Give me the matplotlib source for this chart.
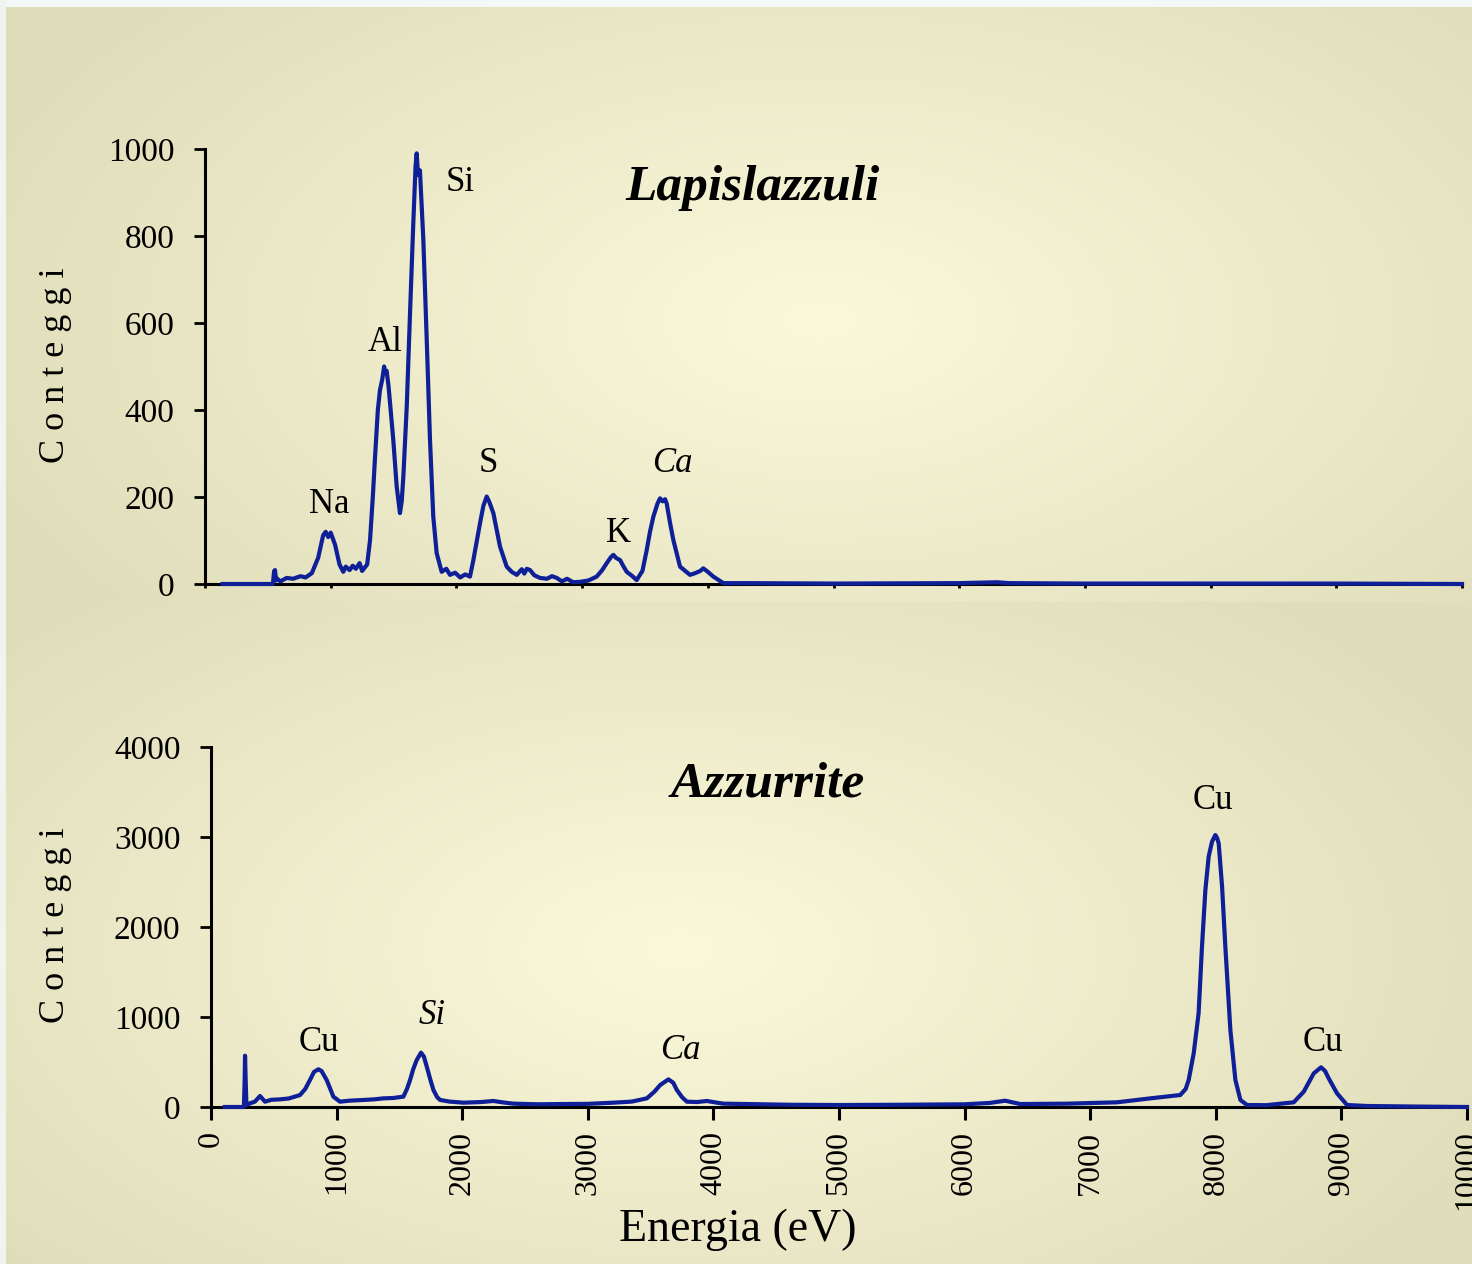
import numpy as np
import matplotlib.pyplot as plt
from matplotlib.patches import Rectangle

plt.rcParams['font.family'] = ['Liberation Serif', 'DejaVu Serif']

# Lapislazzuli spectrum (energy in eV, counts)
lapis_ev = [140, 540, 550, 557, 565, 575, 600, 650, 700, 760, 800, 850, 900, 940, 960, 980, 1000,
            1035, 1070, 1100, 1120, 1150, 1175, 1200, 1230, 1250, 1290, 1313, 1335, 1353, 1375,
            1392, 1410, 1425, 1432, 1445, 1460, 1472, 1498, 1525, 1551, 1565, 1578, 1605, 1631,
            1657, 1675, 1684, 1695, 1710, 1737, 1764, 1790, 1816, 1843, 1883, 1920, 1949, 1990,
            2030, 2070, 2108, 2135, 2188, 2215, 2241, 2260, 2294, 2347, 2400, 2440, 2480, 2520,
            2540, 2560, 2586, 2620, 2665, 2720, 2760, 2798, 2840, 2880, 2930, 2983, 3050, 3116,
            3160, 3196, 3230, 3249, 3270, 3302, 3330, 3355, 3400, 3434, 3480, 3514, 3540, 3567,
            3600, 3620, 3640, 3660, 3673, 3700, 3726, 3779, 3858, 3900, 3940, 3964, 4000, 4044,
            4124, 4300, 5000, 6000, 6300, 6400, 7000, 8000, 9000, 10000]
lapis_counts = [0, 0, 30, 32, 8, 12, 6, 14, 12, 18, 15, 25, 60, 112, 120, 108, 118,
                90, 45, 28, 40, 32, 42, 35, 48, 30, 45, 101, 200, 293, 400,
                446, 470, 500, 485, 490, 455, 416, 331, 224, 163, 190, 247, 408, 622,
                829, 960, 990, 940, 951, 791, 561, 331, 155, 71, 28, 35, 21, 26,
                15, 22, 17, 55, 140, 180, 201, 190, 163, 86, 40, 28, 21, 34,
                24, 35, 32, 20, 14, 12, 18, 14, 6, 12, 4, 5, 8, 17,
                32, 48, 62, 67, 60, 55, 40, 28, 18, 9, 30, 78, 120, 155,
                185, 197, 190, 195, 185, 140, 101, 40, 21, 25, 30, 36, 28, 17,
                2, 2, 1, 2, 4, 2, 1, 1, 1, 0]

# Azzurrite spectrum (energy in eV, counts)
azz_ev = [110, 262, 268, 271, 276, 282, 311, 350, 390, 430, 480, 550, 620, 709, 750, 788,
          820, 855, 880, 921, 950, 974, 1027, 1100, 1213, 1300, 1372, 1450, 1532, 1560, 1585,
          1610, 1638, 1672, 1695, 1718, 1745, 1771, 1800, 1824, 1900, 2009, 2150, 2248, 2330,
          2408, 2600, 2806, 3000, 3204, 3350, 3470, 3530, 3576, 3642, 3680, 3709, 3750, 3789,
          3870, 3948, 4020, 4080, 4266, 4600, 5000, 5500, 6000, 6200, 6323, 6443, 6815, 7213,
          7479, 7717, 7760, 7784, 7824, 7863, 7890, 7917, 7943, 7970, 7996, 8010, 8023, 8050,
          8076, 8116, 8156, 8196, 8249, 8400, 8620, 8700, 8780, 8838, 8870, 8899, 8965, 9045,
          9204, 9600, 10000]
azz_counts = [0, 0, 300, 570, 300, 20, 41, 60, 122, 59, 80, 85, 95, 133, 200, 300,
              390, 419, 400, 300, 200, 115, 59, 70, 78, 85, 96, 100, 115, 200, 300,
              420, 522, 604, 560, 448, 310, 189, 110, 78, 60, 48, 55, 67, 50,
              37, 30, 33, 35, 48, 60, 96, 170, 244, 307, 270, 189, 110, 59,
              55, 67, 50, 37, 33, 25, 22, 25, 30, 45, 70, 33, 37, 52,
              96, 133, 200, 300, 596, 1041, 1781, 2411, 2781, 2948, 3022, 2990, 2930, 2448,
              1781, 856, 300, 78, 22, 20, 52, 170, 374, 441, 400, 318, 152, 22,
              11, 5, 0]

# peak labels: text, energy, height, italic
lapis_labels = [("Na", 986, 182, False), ("Al", 1432, 556, False), ("Si", 2029, 924, False),
                ("S", 2251, 276, False), ("K", 3294, 117, False), ("Ca", 3715, 276, True)]
azz_labels = [("Cu", 860, 722, False), ("Si", 1760, 1022, True), ("Ca", 3735, 633, True),
              ("Cu", 7980, 3411, False), ("Cu", 8856, 722, False)]

line_color = '#0E1F98'
W, H = 1472, 1264

fig = plt.figure(figsize=(W / 100, H / 100), dpi=100)

# background: two soft radial gradients
yy, xx = np.mgrid[0:H, 0:W]
center = np.array([250, 249, 218]) / 255
edge = np.array([224, 221, 186]) / 255
t_top = np.sqrt(((xx - 820) / 900.0) ** 2 + ((yy - 320) / 480.0) ** 2)
t_bot = np.sqrt(((xx - 680) / 900.0) ** 2 + ((yy - 950) / 480.0) ** 2)
t = np.clip(np.where(yy < 602, t_top, t_bot), 0, 1)
img = center * (1 - t)[..., None] + edge * t[..., None]
bg = fig.add_axes([0, 0, 1, 1], zorder=-10)
bg.imshow(img, aspect='auto', extent=[0, W, H, 0])
bg.add_patch(Rectangle((0, 0), W, 7, color='#F4F8F6', lw=0))
bg.add_patch(Rectangle((0, 0), 6, H, color='#F1F4EE', lw=0))
bg.set_xlim(0, W)
bg.set_ylim(H, 0)
bg.axis('off')


def style_axes(ax):
    ax.set_facecolor('none')
    for s in ['top', 'right']:
        ax.spines[s].set_visible(False)
    for s in ['left', 'bottom']:
        ax.spines[s].set_linewidth(2.2)
    ax.set_xlim(0, 10000)
    ax.set_xticks(np.arange(0, 10001, 1000))
    ax.tick_params(axis='y', direction='out', length=8, width=2, pad=14, labelsize=24)


ax1 = fig.add_axes([205 / W, 1 - 584 / H, (1462 - 205) / W, (584 - 149) / H])
style_axes(ax1)
ax1.plot(lapis_ev, lapis_counts, color=line_color, lw=3.0, zorder=3, clip_on=False)
ax1.set_ylim(0, 1000)
ax1.set_yticks(np.arange(0, 1001, 200))
ax1.tick_params(axis='x', direction='out', length=3, width=2, labelbottom=False)
for txt, e, c, it in lapis_labels:
    ax1.text(e, c, txt, ha='center', va='center', fontsize=25,
             style='italic' if it else 'normal')
ax1.text(4352, 910, "Lapislazzuli", ha='center', va='center', fontsize=37,
         fontweight='bold', style='italic')

ax2 = fig.add_axes([211 / W, 1 - 1107 / H, (1467 - 211) / W, (1107 - 747) / H])
style_axes(ax2)
ax2.plot(azz_ev, azz_counts, color=line_color, lw=3.0, zorder=3, clip_on=False)
ax2.set_ylim(0, 4000)
ax2.set_yticks(np.arange(0, 4001, 1000))
ax2.tick_params(axis='x', direction='out', length=9, width=2.2, pad=8, labelsize=23,
                labelrotation=90)
for txt, e, c, it in azz_labels:
    ax2.text(e, c, txt, ha='center', va='center', fontsize=25,
             style='italic' if it else 'normal')
ax2.text(4436, 3578, "Azzurrite", ha='center', va='center', fontsize=37,
         fontweight='bold', style='italic')

fig.text(55 / W, 1 - 365 / H, "C o n t e g g i", rotation=90, ha='center', va='center', fontsize=26)
fig.text(55 / W, 1 - 925 / H, "C o n t e g g i", rotation=90, ha='center', va='center', fontsize=26)
fig.text(738 / W, 1 - 1230 / H, "Energia (eV)", ha='center', va='center', fontsize=33)

fig.savefig("out.png", dpi=100)
